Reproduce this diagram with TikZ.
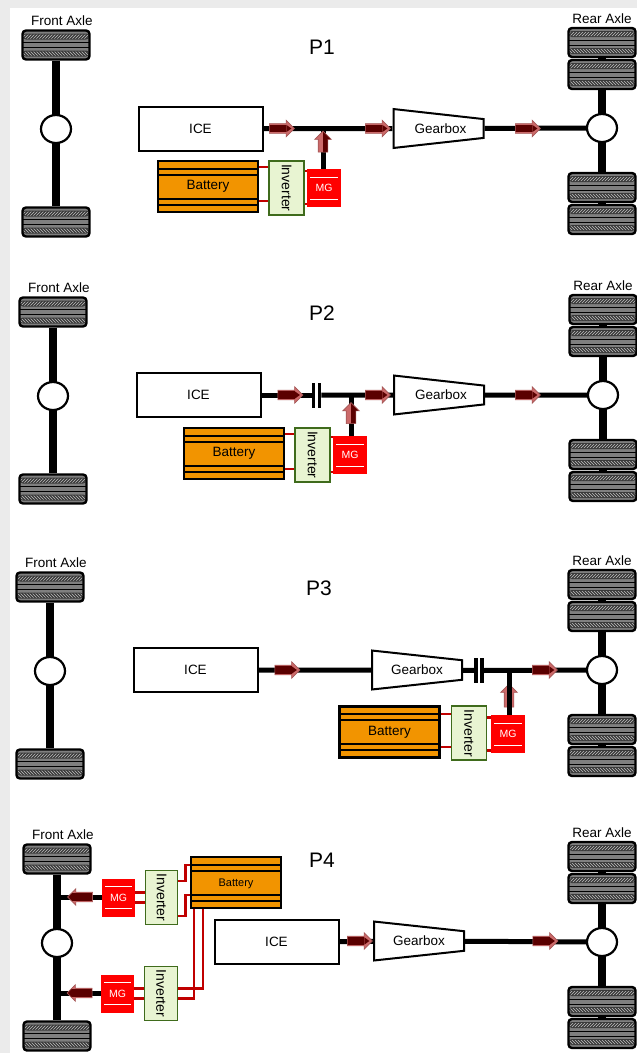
\documentclass[tikz,border=0pt]{standalone}
\usepackage{fontspec}
\setmainfont{Liberation Sans}
\usetikzlibrary{arrows.meta,positioning,shapes.geometric,shapes.arrows,patterns,calc}
\definecolor{tirebody}{HTML}{7F7F7F}
\definecolor{tiredark}{HTML}{3A3A3A}
\definecolor{wirered}{HTML}{C00000}
\definecolor{mgred}{HTML}{FF0000}
\definecolor{packorange}{HTML}{F29400}
\definecolor{invfill}{HTML}{E8F4D2}
\definecolor{invline}{HTML}{3F6B1C}
\definecolor{flowpink}{HTML}{CC6A6A}
\definecolor{flowdark}{HTML}{5A0000}
\tikzset{
  tire/.style={draw, line width=2.4pt, rounded corners=3.5pt, minimum width=67pt, minimum height=29pt, inner sep=0pt, fill=tirebody,
    path picture={
      \fill[tiredark] ([yshift=-3pt]path picture bounding box.north west) rectangle ([yshift=-9pt]path picture bounding box.north east);
      \fill[tiredark] ([yshift=3pt]path picture bounding box.south west) rectangle ([yshift=9pt]path picture bounding box.south east);
      \fill[pattern=north east lines, pattern color=white!75!black] ([yshift=-4pt]path picture bounding box.north west) rectangle ([yshift=-8pt]path picture bounding box.north east);
      \fill[pattern=north west lines, pattern color=white!75!black] ([yshift=4pt]path picture bounding box.south west) rectangle ([yshift=8pt]path picture bounding box.south east);
      \draw[black, line width=0.5pt] ([yshift=-2.5pt]path picture bounding box.west) -- ([yshift=-2.5pt]path picture bounding box.east);
      \draw[black, line width=0.5pt] ([yshift=2.5pt]path picture bounding box.west) -- ([yshift=2.5pt]path picture bounding box.east);
    }},
  hub/.style={draw, ellipse, line width=2.2pt, fill=white, minimum width=30pt, minimum height=28pt, inner sep=0pt},
  axle/.style={line width=8.5pt},
  shaft/.style={line width=5pt},
  wire/.style={draw=wirered, line width=2.4pt},
  axletext/.style={font=\fontsize{13.5}{15}\selectfont, inner sep=0pt},
  paneltitle/.style={font=\fontsize{21}{24}\selectfont, inner sep=0pt},
  ice/.style={draw, line width=2pt, fill=white, minimum width=124pt, minimum height=44pt, inner sep=0pt, font=\fontsize{13.5}{15}\selectfont},
  gearbox/.style={draw, trapezium, trapezium left angle=84.6, trapezium right angle=84.6, shape border rotate=270, trapezium stretches=true, line width=2pt, fill=white, minimum width=39pt, minimum height=90pt, inner sep=0pt, font=\fontsize{13.5}{15}\selectfont},
  battery/.style={draw, line width=2.2pt, fill=packorange, minimum width=100pt, minimum height=51pt, inner sep=0pt, font=\fontsize{13.5}{15}\selectfont,
    path picture={
      \foreach \d in {7.5,13.5}{
        \draw[line width=2pt] ([yshift=-\d pt]path picture bounding box.north west) -- ([yshift=-\d pt]path picture bounding box.north east);
        \draw[line width=2pt] ([yshift=\d pt]path picture bounding box.south west) -- ([yshift=\d pt]path picture bounding box.south east);
      }
    }},
  inverter/.style={draw=invline, line width=1.8pt, fill=invfill, minimum width=35pt, minimum height=54pt, inner sep=0pt},
  invtext/.style={rotate=-90, font=\fontsize{14}{16}\selectfont, inner sep=0pt},
  mg/.style={fill=mgred, text=white, minimum width=34pt, minimum height=38pt, inner sep=0pt, font=\fontsize{10.5}{12}\selectfont,
    path picture={
      \draw[white, line width=0.9pt] ([xshift=3pt,yshift=-8pt]path picture bounding box.north west) -- ([xshift=-3pt,yshift=-8pt]path picture bounding box.north east);
      \draw[white, line width=0.9pt] ([xshift=3pt,yshift=8pt]path picture bounding box.south west) -- ([xshift=-3pt,yshift=8pt]path picture bounding box.south east);
    }},
  flowbase/.style={single arrow, draw=flowpink!80!black, line width=0.6pt, fill=flowpink, text width=1pt, text height=4.5pt, text depth=4.5pt, minimum height=25pt, single arrow head extend=3.5pt, single arrow head indent=0pt, inner sep=0pt},
  flow/.style={flowbase, xshift=-2pt,
    path picture={
      \fill[flowdark] ([yshift=-3.6pt]path picture bounding box.west) rectangle ([yshift=3.6pt,xshift=-8pt]path picture bounding box.east);
      \fill[flowdark] ([yshift=-3.6pt,xshift=-8pt]path picture bounding box.east) -- ([xshift=-3pt]path picture bounding box.east) -- ([yshift=3.6pt,xshift=-8pt]path picture bounding box.east) -- cycle;
    }},
  flowleft/.style={flowbase, xshift=2pt, rotate=180,
    path picture={
      \fill[flowdark] ([yshift=-3.6pt]path picture bounding box.east) rectangle ([yshift=3.6pt,xshift=8pt]path picture bounding box.west);
      \fill[flowdark] ([yshift=-3.6pt,xshift=8pt]path picture bounding box.west) -- ([xshift=3pt]path picture bounding box.west) -- ([yshift=3.6pt,xshift=8pt]path picture bounding box.west) -- cycle;
    }},
  flowup/.style={flowbase, minimum height=21pt, yshift=-1.5pt, rotate=90,
    path picture={
      \fill[flowdark] ([xshift=-3.6pt]path picture bounding box.south) rectangle ([xshift=3.6pt,yshift=-8pt]path picture bounding box.north);
      \fill[flowdark] ([xshift=-3.6pt,yshift=-8pt]path picture bounding box.north) -- ([yshift=-3pt]path picture bounding box.north) -- ([xshift=3.6pt,yshift=-8pt]path picture bounding box.north) -- cycle;
    }},
  clutchbar/.style={fill=black, minimum width=3.5pt, minimum height=25pt, inner sep=0pt},
  frontaxle/.pic={
    \node[tire] (top) at (0,-84) {};
    \node[tire] (bot) at (0,93) {};
    \draw[axle] (top) -- (bot);
    \node[hub] (hub) at (0,0) {};
    \node[axletext] (name) at (6,-108) {Front Axle};
  },
  rearaxle/.pic={
    \node[tire] (topa) at (0,-85.5) {};
    \node[tire] (topb) at (0,-53.5) {};
    \node[tire] (bota) at (0,59.5) {};
    \node[tire] (botb) at (0,91.5) {};
    \draw[axle] (topb) -- (bota);
    \draw[axle] (topa) -- (topb);
    \draw[axle] (bota) -- (botb);
    \node[hub] (hub) at (0,0) {};
    \node[axletext] (name) at (0,-109) {Rear Axle};
  }
}

\begin{document}
\begin{tikzpicture}[x=1pt, y=-1pt]
  \useasboundingbox (0,0) rectangle (637,1053);
  % page shadow
  \fill[black!8] (0,0) rectangle (637,1053);
  \fill[white] (10,8) rectangle (637,1053);

  % P1
  \pic (fa1) at (56,129) {frontaxle};
  \pic (ra1) at (602,128) {rearaxle};
  \node[paneltitle] (t1) at (322,47) {P1};
  \node[ice] (ice1) at (200.5,128.5) {ICE};
  \node[gearbox] (gb1) at (438.5,128.5) {\hspace{4pt}Gearbox};
  \node[battery] (bat1) at (208,186.5) {};
  \node[axletext] at (208,186) {Battery};
  \node[inverter, right=9pt of bat1.north east, anchor=north west] (inv1) {};
  \node[invtext] at (inv1) {Inverter};
  \node[mg] (mg1) at (324,188) {MG};
  \coordinate (j1) at (323,128);
  \draw[shaft] (ice1) -- (gb1);
  \draw[shaft] (gb1) -- (ra1hub);
  \draw[shaft] (mg1.north -| j1) -- (j1);
  \node[flow] (f1a) at (281.5,128.5) {};
  \node[flow] (f1b) at (377.5,128.5) {};
  \node[flow] (f1c) at (527.5,128.5) {};
  \node[flowup] (f1d) at (323,142.5) {};
  \draw[wire] ([yshift=-14.5pt]bat1.east) -- ([yshift=-14.5pt]bat1.east -| inv1.west);
  \draw[wire] ([yshift=19.5pt]bat1.east) -- ([yshift=19.5pt]bat1.east -| inv1.west);
  \draw[wire] ([yshift=-16pt]inv1.east) -- ([yshift=-16pt]inv1.east -| mg1.west);
  \draw[wire] ([yshift=17pt]inv1.east) -- ([yshift=17pt]inv1.east -| mg1.west);

  % P2
  \pic (fa2) at (53,396) {frontaxle};
  \pic (ra2) at (603,395) {rearaxle};
  \node[paneltitle] (t2) at (322,313) {P2};
  \node[ice] (ice2) at (198.5,395) {ICE};
  \node[gearbox] (gb2) at (439,395) {\hspace{4pt}Gearbox};
  \node[clutchbar] (c2a) at (313.5,395) {};
  \node[clutchbar] (c2b) at (319.5,395) {};
  \node[battery] (bat2) at (234,453.5) {};
  \node[axletext] at (234,453) {Battery};
  \node[inverter, right=9pt of bat2.north east, anchor=north west] (inv2) {};
  \node[invtext] at (inv2) {Inverter};
  \node[mg] (mg2) at (350,455) {MG};
  \coordinate (j2) at (351,395);
  \draw[shaft] (ice2) -- (c2a);
  \draw[shaft] (c2b) -- (gb2);
  \draw[shaft] (gb2) -- (ra2hub);
  \draw[shaft] (mg2.north -| j2) -- (j2);
  \node[flow] (f2a) at (290,395) {};
  \node[flow] (f2b) at (377.5,395) {};
  \node[flow] (f2c) at (527.5,395) {};
  \node[flowup] (f2d) at (351,414) {};
  \draw[wire] ([yshift=-15.5pt]bat2.east) -- ([yshift=-15.5pt]bat2.east -| inv2.west);
  \draw[wire] ([yshift=19.5pt]bat2.east) -- ([yshift=19.5pt]bat2.east -| inv2.west);
  \draw[wire] ([yshift=-17pt]inv2.east) -- ([yshift=-17pt]inv2.east -| mg2.west);
  \draw[wire] ([yshift=18pt]inv2.east) -- ([yshift=18pt]inv2.east -| mg2.west);

  % P3
  \pic (fa3) at (50,671) {frontaxle};
  \pic (ra3) at (602,670) {rearaxle};
  \node[paneltitle] (t3) at (319,588) {P3};
  \node[ice] (ice3) at (195.5,670) {ICE};
  \node[gearbox] (gb3) at (417,670) {Gearbox};
  \node[clutchbar] (c3a) at (476,670.5) {};
  \node[clutchbar] (c3b) at (482,670.5) {};
  \node[battery] (bat3) at (389.5,732) {};
  \node[axletext] at (389.5,732) {Battery};
  \node[inverter, right=10pt of bat3.north east, anchor=north west] (inv3) {};
  \node[invtext] at (inv3) {Inverter};
  \node[mg] (mg3) at (508,734) {MG};
  \coordinate (j3) at (509,670);
  \draw[shaft] (ice3) -- (gb3);
  \draw[shaft] (gb3) -- (c3a);
  \draw[shaft] (c3b) -- (ra3hub);
  \node[flow] (f3a) at (287,670) {};
  \node[flow] (f3b) at (544.5,670) {};
  \node[flowbase, minimum height=23pt, rotate=90] (f3d) at (509,698) {};
  \draw[shaft] (mg3.north -| j3) -- (j3);
  \draw[wire] ([yshift=-15pt]bat3.east) -- ([yshift=-15pt]bat3.east -| inv3.west);
  \draw[wire] ([yshift=18pt]bat3.east) -- ([yshift=18pt]bat3.east -| inv3.west);
  \draw[wire] ([yshift=-17pt]inv3.east) -- ([yshift=-17pt]inv3.east -| mg3.west);
  \draw[wire] ([yshift=16pt]inv3.east) -- ([yshift=16pt]inv3.east -| mg3.west);

  % P4
  \pic (fa4) at (57,943) {frontaxle};
  \pic (ra4) at (602,942) {rearaxle};
  \node[paneltitle] (t4) at (322,860) {P4};
  \node[ice] (ice4) at (276.5,942) {ICE};
  \node[gearbox] (gb4) at (419,941) {Gearbox\hspace{4pt}};
  \node[battery, minimum width=90pt] (bat4) at (236,882.5) {};
  \node[axletext, font=\fontsize{11}{13}\selectfont] at (236,883.5) {Battery};
  \node[inverter, minimum width=32pt] (inv4a) at (161.5,897.5) {};
  \node[invtext] at (inv4a) {Inverter};
  \node[inverter, minimum width=33pt] (inv4b) at (161,993.5) {};
  \node[invtext] at (inv4b) {Inverter};
  \node[mg, minimum width=33pt] (mg4a) at (118.5,897.5) {MG};
  \node[mg, minimum width=33pt] (mg4b) at (117.5,993.5) {MG};
  \draw[shaft] (ice4) -- (gb4);
  \draw[shaft] (gb4) -- (ra4hub);
  \draw[shaft] (mg4a) -- (mg4a -| fa4hub);
  \draw[shaft] (mg4b) -- (mg4b -| fa4hub);
  \draw[wire] ([yshift=-5pt]inv4a.west) -- ([yshift=-5pt]inv4a.west -| mg4a.east);
  \draw[wire] ([yshift=5pt]inv4a.west) -- ([yshift=5pt]inv4a.west -| mg4a.east);
  \draw[wire] ([yshift=-5pt]inv4b.west) -- ([yshift=-5pt]inv4b.west -| mg4b.east);
  \draw[wire] ([yshift=5pt]inv4b.west) -- ([yshift=5pt]inv4b.west -| mg4b.east);
  \draw[wire] ([yshift=-18.5pt]inv4a.east) -- ++(7,0) |- ([yshift=-12.5pt]bat4.west);
  \draw[wire] ([yshift=16.5pt]inv4a.east) -- ++(7,0) |- ([yshift=17.5pt]bat4.west);
  \draw[wire] ([yshift=-5pt]inv4b.east) -| ([xshift=-42pt]bat4.south);
  \draw[wire] ([yshift=5pt]inv4b.east) -| ([xshift=-33pt]bat4.south);
  \node[flow] (f4a) at (359.5,941) {};
  \node[flow] (f4b) at (545,941) {};
  \node[flowleft] (f4c) at (80.5,897) {};
  \node[flowleft] (f4d) at (80,993) {};
\end{tikzpicture}
\end{document}
